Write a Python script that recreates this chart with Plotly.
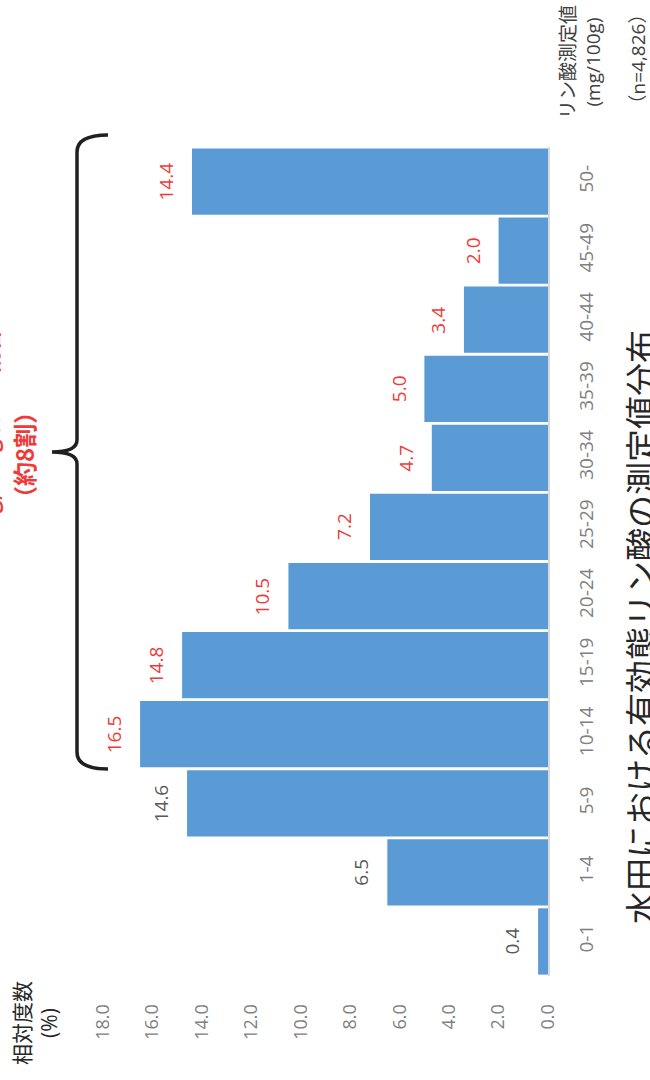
import plotly.graph_objects as go

# ---------------- data ----------------
categories = ["0-1", "1-4", "5-9", "10-14", "15-19", "20-24",
              "25-29", "30-34", "35-39", "40-44", "45-49", "50-"]
values = [0.4, 6.5, 14.6, 16.5, 14.8, 10.5, 7.2, 4.7, 5.0, 3.4, 2.0, 14.4]
value_labels = ["0.4", "6.5", "14.6", "16.5", "14.8", "10.5",
                "7.2", "4.7", "5.0", "3.4", "2.0", "14.4"]
label_colors = ["#595959"] * 3 + ["#F03A3A"] * 9
value_ticks = [0, 2, 4, 6, 8, 10, 12, 14, 16, 18]
value_tick_labels = ["0.0", "2.0", "4.0", "6.0", "8.0", "10.0",
                     "12.0", "14.0", "16.0", "18.0"]

title_text = "水田における有効態リン酸の測定値分布"
value_axis_title = "相対度数<br>(%)"
category_axis_title = "リン酸測定値<br>(mg/100g)"
n_text = "（n=4,826）"
brace_text = "（約8割）"
brace_text_top = "10mg/100g以上の割合"

# ---------------- geometry (pixels) ----------------
W_PX, H_PX = 650, 1080
L, R, T, B = 103, 548, 147, 976
PW, PH = R - L, B - T


def px(x):
    return (x - L) / PW


def py(y):
    return (B - y) / PH


FONT = "Open Sans, Noto Sans CJK JP, sans-serif"
RED = "#F03A3A"

fig = go.Figure()
fig.add_trace(go.Bar(
    x=values, y=categories, orientation="h",
    marker=dict(color="#5B9BD5", line=dict(width=0)),
    hoverinfo="skip",
))

annotations = []
# data labels
for c, v, t, col in zip(categories, values, value_labels, label_colors):
    annotations.append(dict(
        x=v, y=c, xref="x", yref="y", text=t, showarrow=False,
        textangle=-90, xanchor="right", yanchor="middle", xshift=-11,
        font=dict(family=FONT, size=19, color=col),
    ))

# title (rotated, partly outside the window, as in the reference)
annotations.append(dict(
    x=px(640), y=py(926), xref="paper", yref="paper", text=title_text,
    showarrow=False, textangle=-90, xanchor="center", yanchor="bottom",
    font=dict(family="Noto Sans CJK JP, sans-serif", size=33, color="#262626"),
))
# value axis title
annotations.append(dict(
    x=px(35), y=py(1023), xref="paper", yref="paper", text=value_axis_title,
    showarrow=False, textangle=-90, xanchor="center", yanchor="middle",
    font=dict(family=FONT, size=21, color="#262626"),
))
# category axis title
annotations.append(dict(
    x=px(580), y=py(121), xref="paper", yref="paper", text=category_axis_title,
    showarrow=False, textangle=-90, xanchor="center", yanchor="bottom",
    font=dict(family=FONT, size=19, color="#404040"),
))
# n
annotations.append(dict(
    x=px(637), y=py(116), xref="paper", yref="paper", text=n_text,
    showarrow=False, textangle=-90, xanchor="center", yanchor="bottom",
    font=dict(family=FONT, size=19, color="#404040"),
))
# brace texts
annotations.append(dict(
    x=px(23), y=py(455), xref="paper", yref="paper", text="<b>" + brace_text + "</b>",
    showarrow=False, textangle=-90, xanchor="center", yanchor="middle",
    font=dict(family="Noto Sans CJK JP, sans-serif", size=24, color=RED),
))
annotations.append(dict(
    x=px(-12), y=py(445), xref="paper", yref="paper", text="<b>" + brace_text_top + "</b>",
    showarrow=False, textangle=-90, xanchor="center", yanchor="middle",
    font=dict(family="Noto Sans CJK JP, sans-serif", size=22, color=RED),
))

# brace shape
pts = [
    ("M", [(108, 135)]),
    ("Q", [(77, 135), (77, 152)]),
    ("L", [(77, 440)]),
    ("Q", [(77, 452), (52, 452)]),
    ("Q", [(77, 452), (77, 464)]),
    ("L", [(77, 752)]),
    ("Q", [(77, 769), (108, 769)]),
]
path = " ".join(cmd + " " + " ".join(f"{px(a):.5f},{py(b):.5f}" for a, b in p)
                for cmd, p in pts)

fig.update_layout(
    width=W_PX, height=H_PX,
    margin=dict(l=L, r=W_PX - R, t=T, b=H_PX - B, pad=0),
    paper_bgcolor="white", plot_bgcolor="white",
    showlegend=False, bargap=0.04,
    font=dict(family=FONT),
    xaxis=dict(
        range=[18, 0], tickvals=value_ticks, ticktext=value_tick_labels,
        tickangle=-90, tickfont=dict(size=18, color="#808080"),
        showgrid=False, zeroline=False, showline=False,
        ticks="outside", ticklen=20, tickcolor="rgba(0,0,0,0)",
    ),
    yaxis=dict(
        type="category", categoryorder="array", categoryarray=categories,
        side="right", tickangle=-90, tickfont=dict(size=19, color="#808080"),
        showgrid=False, zeroline=False,
        showline=True, linecolor="#D9D9D9", linewidth=2,
        ticks="outside", ticklen=20, tickcolor="rgba(0,0,0,0)",
        range=[-0.5, 11.5],
    ),
    annotations=annotations,
    shapes=[dict(type="path", path=path, xref="paper", yref="paper",
                 line=dict(color="#231F20", width=3.5))],
)

fig.write_html("out.html")
